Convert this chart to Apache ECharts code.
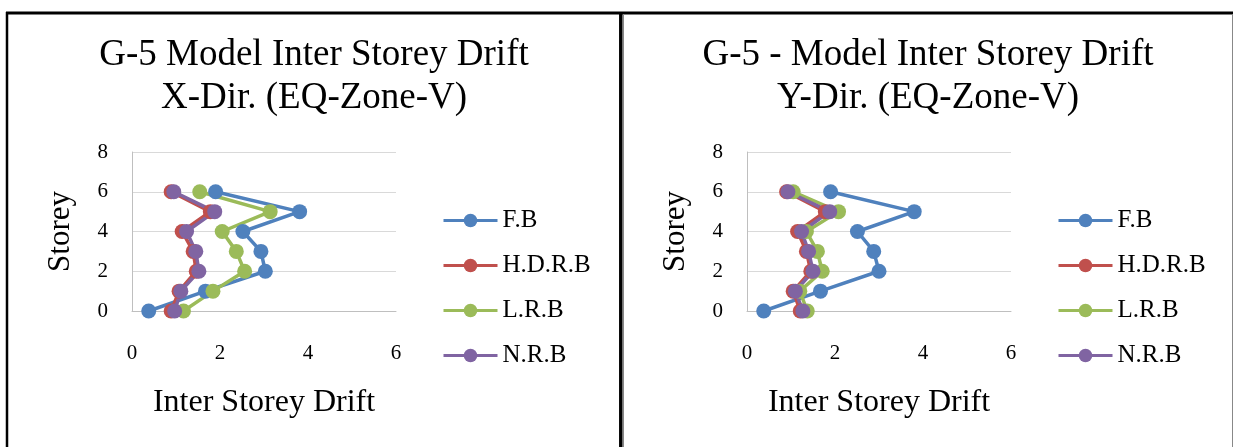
<!DOCTYPE html>
<html>
<head>
    <meta charset="utf-8">
    <title>G-5 Model Inter Storey Drift</title>
    <script src="https://cdn.jsdelivr.net/npm/echarts@6/dist/echarts.min.js"></script>
    <style>
        html, body {
            margin: 0;
            padding: 0;
            background: #fff;
        }
        #main {
            width: 1234px;
            height: 447px;
        }
    </style>
</head>
<body>
    <div id="main"></div>
    <script type="text/javascript">
        // storey numbers (y axis)
        const storeys = [0, 1, 2, 3, 4, 5, 6];
        const seriesNames = ['F.B', 'H.D.R.B', 'L.R.B', 'N.R.B'];
        const colors = ['#4F81BD', '#C0504D', '#9BBB59', '#8064A2'];
        const xTicks = [0, 2, 4, 6];
        const yTicks = [0, 2, 4, 6, 8];

        // X-direction drift, storey 0..6
        const xFB = [0.38, 1.67, 3.03, 2.93, 2.52, 3.81, 1.90];
        const xHDRB = [0.89, 1.07, 1.46, 1.39, 1.14, 1.78, 0.89];
        const xLRB = [1.17, 1.84, 2.56, 2.37, 2.05, 3.14, 1.54];
        const xNRB = [0.97, 1.11, 1.52, 1.45, 1.24, 1.88, 0.95];

        // Y-direction drift, storey 0..6
        const yFB = [0.38, 1.67, 3.00, 2.88, 2.51, 3.80, 1.90];
        const yHDRB = [1.21, 1.05, 1.45, 1.35, 1.15, 1.78, 0.90];
        const yLRB = [1.37, 1.20, 1.71, 1.60, 1.35, 2.08, 1.05];
        const yNRB = [1.27, 1.10, 1.50, 1.40, 1.24, 1.88, 0.93];

        const font = 'Liberation Serif';
        const chart = echarts.init(document.getElementById('main'));

        function pairs(vals) {
            return vals.map(function (v, i) { return [v, storeys[i]]; });
        }

        function xAxisFor(idx) {
            return {
                gridIndex: idx,
                type: 'value',
                min: xTicks[0],
                max: xTicks[xTicks.length - 1],
                interval: 2,
                name: 'Inter Storey Drift',
                nameLocation: 'middle',
                nameGap: 76,
                nameTextStyle: { fontFamily: font, fontSize: 32, color: '#000' },
                axisLine: { show: true, lineStyle: { color: '#BFBFBF', width: 1 } },
                axisTick: { show: false },
                splitLine: { show: false },
                axisLabel: { fontFamily: font, fontSize: 21, color: '#000', margin: 32 }
            };
        }

        function yAxisFor(idx) {
            return {
                gridIndex: idx,
                type: 'value',
                min: yTicks[0],
                max: yTicks[yTicks.length - 1],
                interval: 2,
                name: 'Storey',
                nameLocation: 'middle',
                nameGap: 56,
                nameTextStyle: { fontFamily: font, fontSize: 31, color: '#000' },
                axisLine: { show: true, lineStyle: { color: '#BFBFBF', width: 1 } },
                axisTick: { show: false },
                splitLine: { show: true, lineStyle: { color: '#D9D9D9', width: 1 } },
                axisLabel: { fontFamily: font, fontSize: 21, color: '#000', margin: 24 }
            };
        }

        function lineSeries(name, vals, idx, color) {
            return {
                name: name,
                type: 'line',
                xAxisIndex: idx,
                yAxisIndex: idx,
                data: pairs(vals),
                symbol: 'circle',
                symbolSize: 15,
                color: color,
                lineStyle: { width: 3.5, color: color },
                itemStyle: { color: color },
                emphasis: { disabled: true }
            };
        }

        function legendFor(left) {
            return {
                orient: 'vertical',
                left: left,
                top: 208,
                padding: 0,
                itemWidth: 54,
                itemHeight: 17,
                itemGap: 20,
                itemTextGap: 4,
                selectedMode: false,
                data: seriesNames,
                lineStyle: { width: 3 },
                textStyle: { fontFamily: font, fontSize: 25, color: '#000' }
            };
        }

        const option = {
            backgroundColor: '#fff',
            animation: false,
            title: [{
                text: 'G-5 Model Inter Storey Drift\nX-Dir. (EQ-Zone-V)',
                left: 314,
                top: 34,
                padding: 0,
                textAlign: 'center',
                textStyle: { fontFamily: font, fontSize: 37, lineHeight: 43, fontWeight: 'normal', color: '#000' }
            }, {
                text: 'G-5 - Model Inter Storey Drift\nY-Dir. (EQ-Zone-V)',
                left: 928,
                top: 34,
                padding: 0,
                textAlign: 'center',
                textStyle: { fontFamily: font, fontSize: 37, lineHeight: 43, fontWeight: 'normal', color: '#000' }
            }],
            legend: [legendFor(442), legendFor(1057)],
            grid: [
                { left: 132, top: 152, width: 264, height: 159 },
                { left: 747, top: 152, width: 264, height: 159 }
            ],
            xAxis: [xAxisFor(0), xAxisFor(1)],
            yAxis: [yAxisFor(0), yAxisFor(1)],
            series: [
                lineSeries(seriesNames[0], xFB, 0, colors[0]),
                lineSeries(seriesNames[1], xHDRB, 0, colors[1]),
                lineSeries(seriesNames[2], xLRB, 0, colors[2]),
                lineSeries(seriesNames[3], xNRB, 0, colors[3]),
                lineSeries(seriesNames[0], yFB, 1, colors[0]),
                lineSeries(seriesNames[1], yHDRB, 1, colors[1]),
                lineSeries(seriesNames[2], yLRB, 1, colors[2]),
                lineSeries(seriesNames[3], yNRB, 1, colors[3])
            ],
            // panel frame lines
            graphic: [
                { type: 'line', shape: { x1: 6, y1: 13, x2: 1233, y2: 13 }, style: { stroke: '#000', lineWidth: 3 } },
                { type: 'line', shape: { x1: 7, y1: 12, x2: 7, y2: 447 }, style: { stroke: '#000', lineWidth: 2.5 } },
                { type: 'line', shape: { x1: 620.8, y1: 12, x2: 620.8, y2: 447 }, style: { stroke: '#000', lineWidth: 3.5 } },
                { type: 'line', shape: { x1: 623.5, y1: 14, x2: 623.5, y2: 447 }, style: { stroke: '#888', lineWidth: 1 } },
                { type: 'line', shape: { x1: 1232.5, y1: 14, x2: 1232.5, y2: 447 }, style: { stroke: '#888', lineWidth: 1 } }
            ]
        };
        chart.setOption(option);

        window.addEventListener('resize', function () {
            chart.resize();
        });
    </script>
</body>
</html>
